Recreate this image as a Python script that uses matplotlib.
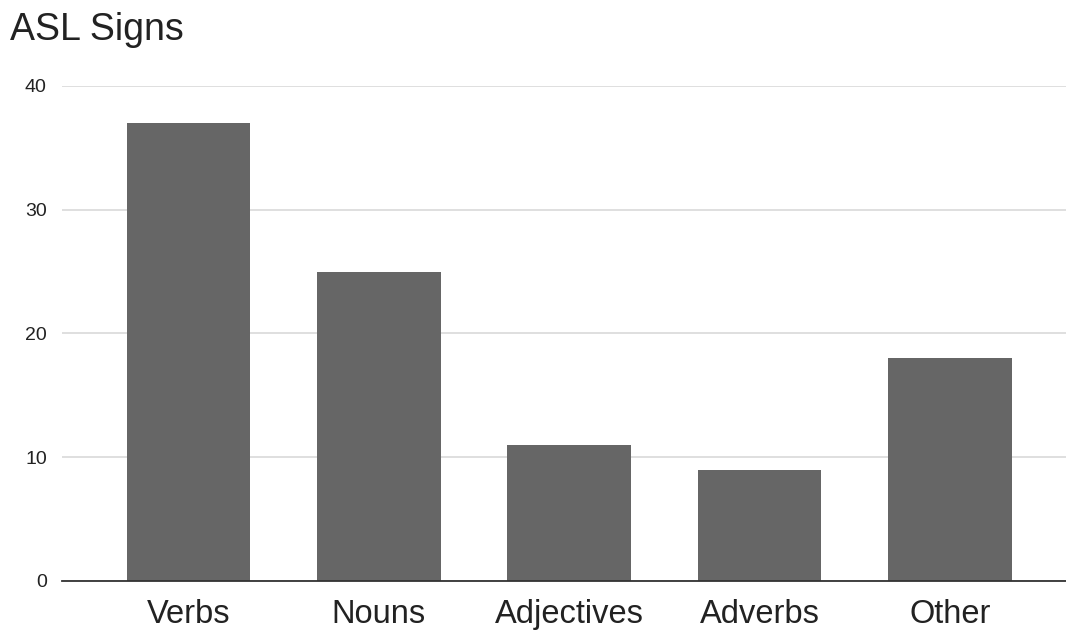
import matplotlib
matplotlib.use("Agg")
from matplotlib import pyplot as plt

categories = ["Verbs", "Nouns", "Adjectives", "Adverbs", "Other"]
counts = [37, 25, 11, 9, 18]
yticks = [0, 10, 20, 30, 40]

plt.rcParams['font.family'] = ['Liberation Sans', 'DejaVu Sans']

fig = plt.figure(figsize=(10.66, 6.37), dpi=100)
ax = fig.add_axes([0.0582, 0.088, 0.9418, 0.777])

ax.bar(range(len(categories)), counts, width=0.65, color='#666666', zorder=3)

ax.set_xlim(-0.665, 4.61)
ax.set_ylim(0, 40)
ax.set_yticks(yticks)
ax.set_xticks(range(len(categories)))
ax.set_xticklabels(categories)

ax.grid(axis='y', color='#d9d9d9', linewidth=1.2, zorder=0)
for side in ['top', 'right', 'left']:
    ax.spines[side].set_visible(False)
ax.spines['bottom'].set_color('#333333')
ax.spines['bottom'].set_linewidth(1.3)
ax.spines['bottom'].set_zorder(4)

ax.tick_params(axis='y', length=0, pad=11, labelsize=14, labelcolor='#222222')
ax.tick_params(axis='x', length=0, pad=13, labelsize=23.5, labelcolor='#222222')

fig.text(0.009, 0.953, "ASL Signs", fontsize=27, color='#222222', va='center', ha='left')

fig.savefig("out.png", dpi=100)
